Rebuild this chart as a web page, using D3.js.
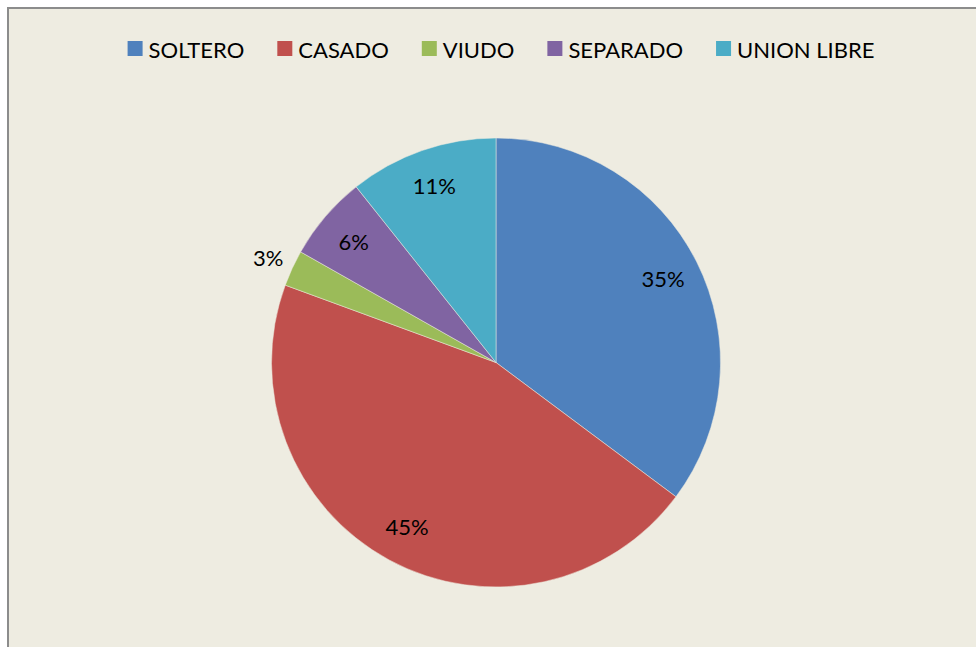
<!DOCTYPE html>
<html>
<head>
<meta charset="utf-8">
<script src="https://cdn.jsdelivr.net/npm/d3@7"></script>
<style>
  body { margin: 0; background: #fff; }
  svg { display: block; }
</style>
</head>
<body>
<div id="chart"></div>
<script>
// estado civil
const categories = ['SOLTERO', 'CASADO', 'VIUDO', 'SEPARADO', 'UNION LIBRE'];
const values = [35.2, 45.4, 2.6, 6.1, 10.7];
const colors = ['#4F81BD', '#C0504D', '#9BBB59', '#8064A2', '#4BACC6'];

const width = 976, height = 647;
const cx = 496, cy = 362.5, radius = 224.5;

const svg = d3.select('#chart').append('svg')
  .attr('width', width)
  .attr('height', height);

// fondo + borde
svg.append('rect')
  .attr('x', 8).attr('y', 8)
  .attr('width', 1000).attr('height', 700)
  .attr('fill', '#EEECE1')
  .attr('stroke', '#8c8c8c')
  .attr('stroke-width', 2);

const total = d3.sum(values);
const fmt = d3.format('.0%');
const color = d3.scaleOrdinal().domain(categories).range(colors);

const pieData = d3.pie().sort(null).value(d => d.v)(
  categories.map((c, i) => ({ c, v: values[i] }))
);

const arc = d3.arc().innerRadius(0).outerRadius(radius);
const labelArc = d3.arc().innerRadius(187).outerRadius(187);
const outerArc = d3.arc().innerRadius(251).outerRadius(251);

const g = svg.append('g').attr('transform', `translate(${cx},${cy})`);

g.selectAll('path')
  .data(pieData)
  .enter().append('path')
  .attr('d', arc)
  .attr('fill', d => color(d.data.c))
  .attr('stroke', '#EEECE1')
  .attr('stroke-width', 0.5);

g.selectAll('text')
  .data(pieData)
  .enter().append('text')
  .each(function(d) {
    const small = (d.endAngle - d.startAngle) < 0.3;
    const p = small ? outerArc.centroid(d) : labelArc.centroid(d);
    d3.select(this)
      .attr('x', p[0])
      .attr('y', p[1])
      .attr('text-anchor', 'middle')
      .attr('dominant-baseline', 'central')
      .attr('font-family', 'Lato, sans-serif')
      .attr('font-size', 22)
      .attr('fill', '#000')
      .text(fmt(d.data.v / total));
  });

// leyenda
const legend = svg.append('g').attr('transform', 'translate(0,49)');
const items = legend.selectAll('g')
  .data(categories)
  .enter().append('g');

items.append('rect')
  .attr('width', 15).attr('height', 15)
  .attr('y', -8)
  .attr('fill', d => color(d));

items.append('text')
  .attr('x', 21)
  .attr('dominant-baseline', 'central')
  .attr('font-family', 'Lato, sans-serif')
  .attr('font-size', 22)
  .attr('fill', '#000')
  .text(d => d);

let widths = [];
items.selectAll('text').each(function() { widths.push(21 + this.getComputedTextLength()); });
const gap = 33;
const totalW = d3.sum(widths) + gap * (widths.length - 1);
let x = 501 - totalW / 2;
items.attr('transform', (d, i) => {
  const t = `translate(${x},0)`;
  x += widths[i] + gap;
  return t;
});
</script>
</body>
</html>
